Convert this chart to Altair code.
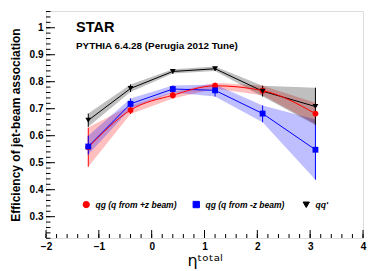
import altair as alt
import pandas as pd

eta = [-1.2, -0.4, 0.4, 1.2, 2.1, 3.1]
red_y = [0.557, 0.695, 0.750, 0.785, 0.767, 0.682]
red_lo = [0.485, 0.680, 0.738, 0.774, 0.750, 0.643]
red_hi = [0.630, 0.712, 0.762, 0.796, 0.785, 0.722]
blue_y = [0.560, 0.718, 0.773, 0.768, 0.682, 0.548]
blue_lo = [0.530, 0.700, 0.760, 0.745, 0.650, 0.437]
blue_hi = [0.600, 0.738, 0.786, 0.790, 0.712, 0.660]
black_y = [0.657, 0.775, 0.838, 0.848, 0.765, 0.708]
black_lo = [0.633, 0.762, 0.830, 0.840, 0.745, 0.640]
black_hi = [0.682, 0.790, 0.846, 0.856, 0.785, 0.778]

series = ["qg (q from +z beam)", "qg (q from -z beam)", "qq'"]
colors = ["#ff0000", "#0000ff", "#000000"]
shapes = ["circle", "square", "triangle-down"]

x_major = [-2, -1, 0, 1, 2, 3, 4]
x_minor = [round(-2 + 0.2 * i, 2) for i in range(31)]
y_major = [0.3, 0.4, 0.5, 0.6, 0.7, 0.8, 0.9, 1.0]
y_minor = [round(0.22 + 0.02 * i, 2) for i in range(43)]

rows = []
for name, ys, los, his in zip(series, [red_y, blue_y, black_y],
                              [red_lo, blue_lo, black_lo],
                              [red_hi, blue_hi, black_hi]):
    for e, v, lo, hi in zip(eta, ys, los, his):
        rows.append({"series": name, "eta": e, "eff": v, "lo": lo, "hi": hi})
df = pd.DataFrame(rows)

W, H = 317, 227
xs = alt.Scale(domain=[-2, 4], nice=False, zero=False)
ys_ = alt.Scale(domain=[0.221, 1.062], nice=False, zero=False)
col = alt.Scale(domain=series, range=colors)
shp = alt.Scale(domain=series, range=shapes)

leg = alt.Legend(
    orient="none", legendX=36, legendY=189, direction="horizontal", columns=3,
    gridAlign="all", title=None, symbolSize=40, labelOffset=5, columnPadding=14, padding=0)

base = alt.Chart(df)

xaxis = alt.Axis(values=x_major, labelOverlap=False, labelFlush=False,
                 title="ηᵗᵒᵗᵃˡ", titleFont="DejaVu Sans",
                 titleFontSize=16, titleFontWeight="normal", titlePadding=1)
yaxis = alt.Axis(values=y_major, labelOverlap=False, labelFlush=False,
                 labelExpr="datum.value == 1 ? '1' : format(datum.value, '.1f')",
                 title="Efficiency of jet-beam association", titleFont="Liberation Sans",
                 titleFontSize=12, titleFontWeight="bold", titlePadding=7)

bands = base.mark_area(opacity=0.25).encode(
    x=alt.X("eta:Q", scale=xs, axis=xaxis),
    y=alt.Y("lo:Q", scale=ys_, axis=yaxis),
    y2="hi:Q",
    color=alt.Color("series:N", scale=col, legend=leg),
)

lines_straight = base.transform_filter(alt.datum.series != series[0]).mark_line(strokeWidth=1).encode(
    x=alt.X("eta:Q", scale=xs, axis=xaxis), y=alt.Y("eff:Q", scale=ys_, axis=yaxis),
    color=alt.Color("series:N", scale=col, legend=leg),
)
line_red = base.transform_filter(alt.datum.series == series[0]).mark_line(
    strokeWidth=1, interpolate="monotone").encode(
    x=alt.X("eta:Q", scale=xs, axis=xaxis), y=alt.Y("eff:Q", scale=ys_, axis=yaxis),
    color=alt.Color("series:N", scale=col, legend=leg),
)

errs = base.mark_rule(strokeWidth=1).encode(
    x=alt.X("eta:Q", scale=xs, axis=xaxis), y=alt.Y("lo:Q", scale=ys_, axis=yaxis), y2="hi:Q",
    color=alt.Color("series:N", scale=col, legend=leg),
)

points = base.mark_point(filled=True, size=34, opacity=1).encode(
    x=alt.X("eta:Q", scale=xs, axis=xaxis), y=alt.Y("eff:Q", scale=ys_, axis=yaxis),
    color=alt.Color("series:N", scale=col, legend=leg),
    shape=alt.Shape("series:N", scale=shp, legend=leg),
)

tdf_xmaj = pd.DataFrame({"v": x_major})
tdf_xmin = pd.DataFrame({"v": x_minor})
tdf_ymaj = pd.DataFrame({"v": y_major})
tdf_ymin = pd.DataFrame({"v": y_minor})

xt_maj = alt.Chart(tdf_xmaj).mark_rule(color="#000", strokeWidth=1).encode(
    x=alt.X("v:Q", scale=xs, axis=xaxis), y=alt.value(H), y2=alt.value(H - 8))
xt_min = alt.Chart(tdf_xmin).mark_rule(color="#000", strokeWidth=1).encode(
    x=alt.X("v:Q", scale=xs, axis=xaxis), y=alt.value(H), y2=alt.value(H - 4))
yt_maj = alt.Chart(tdf_ymaj).mark_rule(color="#000", strokeWidth=1).encode(
    y=alt.Y("v:Q", scale=ys_, axis=yaxis), x=alt.value(0), x2=alt.value(9))
yt_min = alt.Chart(tdf_ymin).mark_rule(color="#000", strokeWidth=1).encode(
    y=alt.Y("v:Q", scale=ys_, axis=yaxis), x=alt.value(0), x2=alt.value(4.5))

star = alt.Chart(pd.DataFrame({"t": ["STAR"]})).mark_text(
    align="left", baseline="alphabetic", font="Liberation Sans", fontSize=14.5,
    fontWeight="bold", color="#000").encode(text="t:N", x=alt.value(30), y=alt.value(21))
pythia = alt.Chart(pd.DataFrame({"t": ["PYTHIA 6.4.28 (Perugia 2012 Tune)"]})).mark_text(
    align="left", baseline="alphabetic", font="Liberation Sans", fontSize=9.9,
    fontWeight="bold", color="#000").encode(text="t:N", x=alt.value(30), y=alt.value(38))

chart = alt.layer(bands, lines_straight, line_red, errs, points,
                  xt_maj, xt_min, yt_maj, yt_min, star, pythia).properties(
    width=W, height=H,
    autosize=alt.AutoSizeParams(type="none"),
    padding={"left": 38, "top": 3, "right": 10, "bottom": 33},
).configure_view(stroke="#333", strokeWidth=1).configure(background="white").configure_axis(
    labelFont="Liberation Sans", labelFontSize=10, labelFontWeight="bold", labelColor="#000",
    ticks=False, domain=False, grid=False, labelOverlap=False, labelPadding=3, titleColor="#000"
).configure_legend(
    labelFont="Liberation Sans", labelFontSize=8.5, labelFontWeight="bold",
    labelFontStyle="italic", labelColor="#000", symbolStrokeWidth=1, symbolOpacity=1
)

chart.save("out.html", embed_options={"renderer": "svg", "actions": False})
